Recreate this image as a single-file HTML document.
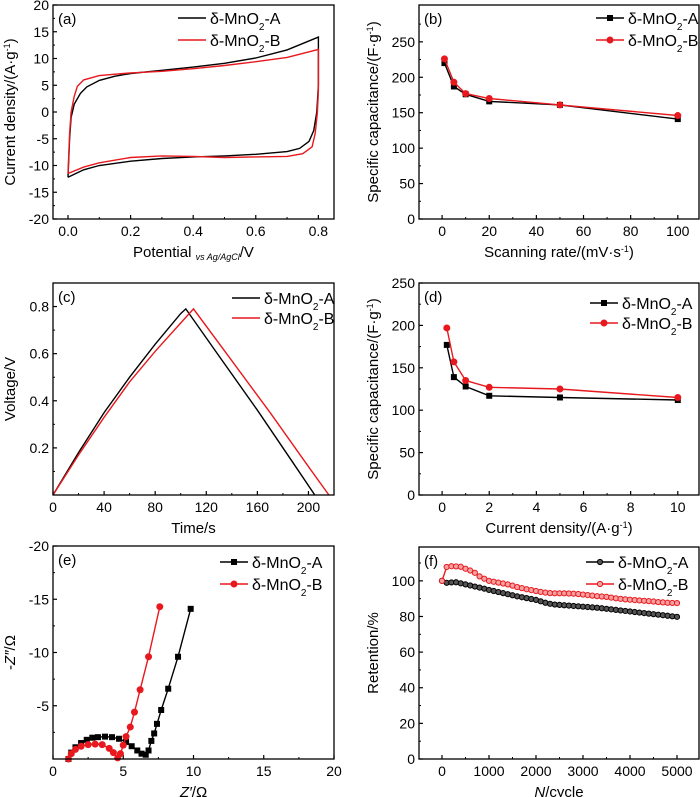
<!DOCTYPE html>
<html><head><meta charset="utf-8">
<style>
body{margin:0;background:#fff;}
svg{display:block;font-family:"Liberation Sans",Arial,sans-serif;}
</style></head>
<body>
<svg id="fig" width="700" height="797" viewBox="0 0 700 797" xmlns="http://www.w3.org/2000/svg"></svg>
<script>
// (a) CV
const cvA_E=[0,0.005,0.01,0.02,0.04,0.06,0.1,0.15,0.2,0.3,0.4,0.5,0.6,0.7,0.8,0.8,0.795,0.785,0.77,0.74,0.7,0.6,0.5,0.4,0.3,0.2,0.1,0.05,0];
const cvA_I=[-12.2,-5,-1,1.5,3.5,4.7,5.9,6.7,7.2,7.8,8.4,9.1,10.1,11.6,14,5,0,-3.5,-5.5,-6.8,-7.4,-7.9,-8.2,-8.4,-8.7,-9.2,-10,-10.8,-12.2];
const cvB_E=[0,0.005,0.01,0.02,0.03,0.05,0.1,0.2,0.3,0.4,0.5,0.6,0.7,0.8,0.8,0.797,0.79,0.78,0.75,0.7,0.6,0.5,0.4,0.3,0.2,0.1,0.05,0];
const cvB_I=[-11.5,-4,0,3,4.8,6,6.8,7.3,7.6,8.1,8.7,9.4,10.2,11.7,4,0,-4,-6.5,-7.8,-8.3,-8.4,-8.5,-8.3,-8.2,-8.5,-9.5,-10.3,-11.5];
// (b)
const rateX=[1,5,10,20,50,100];
const capRateA=[220,187,176,166,161,141];
const capRateB=[226,193,177,170,161,146];
// (c)
const gcdA_t=[0,20,40,60,80,100,104,130,160,190,205];
const gcdA_V=[0,0.18,0.35,0.5,0.64,0.77,0.79,0.59,0.36,0.12,0];
const gcdB_t=[0,20,40,60,80,100,110,140,170,200,216];
const gcdB_V=[0,0.17,0.33,0.48,0.61,0.73,0.79,0.57,0.35,0.12,0];
// (d)
const curX=[0.2,0.5,1,2,5,10];
const capCurA=[177,139,128,117,115,112];
const capCurB=[197,157,135,127,125,115];
// (e)
const eisA_re=[1.1,1.3,1.6,2.0,2.4,2.8,3.2,3.7,4.2,4.7,5.2,5.6,6.0,6.3,6.6,6.8,7.0,7.2,7.4,7.7,8.2,8.9,9.8];
const eisA_im=[0,-0.6,-1.1,-1.5,-1.8,-2.0,-2.05,-2.1,-2.05,-1.9,-1.6,-1.2,-0.8,-0.5,-0.4,-0.8,-1.7,-2.4,-3.3,-4.6,-6.6,-9.6,-14.1];
const eisB_re=[1.1,1.3,1.6,2.0,2.5,3.0,3.5,4.0,4.3,4.6,4.8,5.0,5.2,5.5,5.8,6.2,6.8,7.6];
const eisB_im=[0,-0.5,-0.9,-1.2,-1.35,-1.4,-1.35,-1.0,-0.6,-0.1,-0.5,-1.3,-2.1,-3.0,-4.4,-6.5,-9.6,-14.3];
// (f)
const retA=[100,98.9,99.1,99.2,98.6,98.0,97.4,96.8,96.2,95.6,94.9,94.3,93.7,93.1,92.5,91.9,91.3,90.8,90.3,89.8,89.3,88.5,87.7,87.1,86.7,86.5,86.3,86.1,85.9,85.7,85.5,85.3,85.1,84.9,84.6,84.3,84.0,83.7,83.4,83.1,82.8,82.5,82.2,81.9,81.6,81.3,81.0,80.7,80.4,80.1,79.8];
const retB=[100,107.8,108.2,108.1,107.9,106.8,105.8,104.5,102.5,101.2,100.0,99.5,99.0,98.5,98.0,97.3,96.5,95.9,95.3,94.8,94.3,93.8,93.4,93.1,93.0,93.0,93.0,92.9,92.8,92.6,92.3,92.0,91.7,91.4,91.2,91.0,90.6,90.2,89.9,89.6,89.4,89.2,89.0,88.8,88.6,88.4,88.1,87.9,87.7,87.6,87.5];
const cycleStep=100;

const NS="http://www.w3.org/2000/svg";
const svg=document.getElementById('fig');
function mk(tag,attrs,parent){const e=document.createElementNS(NS,tag);for(const k in attrs)e.setAttribute(k,attrs[k]);(parent||svg).appendChild(e);return e;}
function txt(s,x,y,size,anchor,parent){const t=mk('text',{x:x,y:y,'font-size':size,'text-anchor':anchor||'middle',fill:'#000'},parent);t.innerHTML=s;return t;}

function panel(o){
  const g=mk('g',{});
  
  
  const sx=v=>o.x0+(v-o.xmin)/(o.xmax-o.xmin)*(o.x1-o.x0);
  const sy=v=>o.y1-(v-o.ymin)/(o.ymax-o.ymin)*(o.y1-o.y0);
  o.xt.forEach((v,i)=>{const X=sx(v);mk('line',{x1:X,x2:X,y1:o.y1,y2:o.y1-4,stroke:'#000','stroke-width':1.2},g);
    const t=txt(o.xl?o.xl[i]:String(v),X,o.y1+17,14,'middle',g);});
  (o.xm||[]).forEach(v=>{const X=sx(v);mk('line',{x1:X,x2:X,y1:o.y1,y2:o.y1-2,stroke:'#000','stroke-width':1},g);});
  o.yt.forEach((v,i)=>{const Y=sy(v);mk('line',{x1:o.x0,x2:o.x0+4,y1:Y,y2:Y,stroke:'#000','stroke-width':1.2},g);
    const t=txt(o.yl?o.yl[i]:String(v),o.x0-4,Y+5,14,'end',g);});
  (o.ym||[]).forEach(v=>{const Y=sy(v);mk('line',{x1:o.x0,x2:o.x0+2,y1:Y,y2:Y,stroke:'#000','stroke-width':1},g);});
  o.series.forEach(s=>{
    const d=s.x.map((v,i)=>(i?'L':'M')+sx(v).toFixed(1)+','+sy(s.y[i]).toFixed(1)).join('');
    const p=mk('path',{d:d,fill:'none',stroke:s.c,'stroke-width':1.4},g);
    
    
    if(s.m){s.x.forEach((v,i)=>{
      let e;
      if(s.m==='sq')e=mk('rect',{x:sx(v)-3,y:sy(s.y[i])-3,width:6,height:6,fill:s.c},g);
      else if(s.m==='ci')e=mk('circle',{cx:sx(v),cy:sy(s.y[i]),r:3.5,fill:s.c},g);
      else e=mk('circle',{cx:sx(v),cy:sy(s.y[i]),r:2.6,fill:s.mf||'#fff',stroke:s.c,'stroke-width':1},g);
      
      
    });}
  });
  const fr=mk('rect',{x:o.x0,y:o.y0,width:o.x1-o.x0,height:o.y1-o.y0,fill:'none',stroke:'#000','stroke-width':1.3},g);
  
  
  const lt=txt(o.letter,o.x0+5,o.y0+19,15,'start',g);
  
  
  o.series.forEach((s,i)=>{
    const ly=o.ly+i*(o.lg||22), lx=o.lx;
    const lg=mk('g',{},g);
    
    
    mk('line',{x1:lx,x2:lx+28,y1:ly,y2:ly,stroke:s.c,'stroke-width':1.4},lg);
    if(s.m==='sq')mk('rect',{x:lx+11,y:ly-3,width:6,height:6,fill:s.c},lg);
    else if(s.m==='ci')mk('circle',{cx:lx+14,cy:ly,r:3.5,fill:s.c},lg);
    else if(s.m)mk('circle',{cx:lx+14,cy:ly,r:2.6,fill:s.mf||'#fff',stroke:s.c},lg);
    txt(s.label,lx+32,ly+6,16,'start',lg);
  });
  const xt=txt(o.xtitle,(o.x0+o.x1)/2,o.y1+38,15,'middle',g);
  
  const yt=mk('text',{x:0,y:0,'font-size':15,'text-anchor':'middle',transform:'translate('+o.ytx+','+((o.y0+o.y1)/2)+') rotate(-90)'},g);
  yt.innerHTML=o.ytitle;
  
}
const LA='δ-MnO<tspan baseline-shift="sub" font-size="10">2</tspan>-A';
const LB='δ-MnO<tspan baseline-shift="sub" font-size="10">2</tspan>-B';
function rng(a,b,s){const r=[];for(let v=a;v<=b+1e-9;v+=s)r.push(+v.toFixed(4));return r;}

panel({name:'panel-a-cv',letter:'(a)',x0:53,x1:334,y0:5,y1:219,xmin:-0.048,xmax:0.85,ymin:-20,ymax:20,
  xt:[0,0.2,0.4,0.6,0.8],xl:['0.0','0.2','0.4','0.6','0.8'],xm:[0.1,0.3,0.5,0.7],yt:rng(-20,20,5),ym:rng(-17.5,17.5,5),
  lx:178,ly:18,xtitle:'Potential <tspan font-size="9" font-style="italic" dy="3">vs Ag/AgCl</tspan><tspan dy="-3">/V</tspan>',ytx:15,ytitle:'Current density/(A·g<tspan baseline-shift="super" font-size="9">-1</tspan>)',
  series:[{n:'cv-a',x:cvA_E,y:cvA_I,c:'#000',label:LA},{n:'cv-b',x:cvB_E,y:cvB_I,c:'#e8191e',label:LB}]});

panel({name:'panel-b-rate',letter:'(b)',x0:419,x1:699,y0:5,y1:219,xmin:-9.8,xmax:109,ymin:0,ymax:302,
  xt:[0,20,40,60,80,100],xm:[10,30,50,70,90],yt:[0,50,100,150,200,250],ym:[25,75,125,175,225,275],
  lx:596,ly:18,xtitle:'Scanning rate/(mV·s<tspan baseline-shift="super" font-size="9">-1</tspan>)',ytx:378,ytitle:'Specific capacitance/(F·g<tspan baseline-shift="super" font-size="9">-1</tspan>)',
  series:[{n:'rate-a',x:rateX,y:capRateA,c:'#000',m:'sq',label:LA},{n:'rate-b',x:rateX,y:capRateB,c:'#e8191e',m:'ci',label:LB}]});

panel({name:'panel-c-gcd',letter:'(c)',x0:53,x1:334,y0:283,y1:495,xmin:0,xmax:220,ymin:0,ymax:0.9,
  xt:[0,40,80,120,160,200],xm:[20,60,100,140,180],yt:[0.2,0.4,0.6,0.8],ym:[0.1,0.3,0.5,0.7],
  lx:232,ly:298,lg:20,xtitle:'Time/s',ytx:15,ytitle:'Voltage/V',
  series:[{n:'gcd-a',x:gcdA_t,y:gcdA_V,c:'#000',label:LA},{n:'gcd-b',x:gcdB_t,y:gcdB_V,c:'#e8191e',label:LB}]});

panel({name:'panel-d-current',letter:'(d)',x0:419,x1:699,y0:283,y1:495,xmin:-0.98,xmax:10.9,ymin:0,ymax:250,
  xt:[0,2,4,6,8,10],xm:[1,3,5,7,9],yt:[0,50,100,150,200,250],ym:[25,75,125,175,225],
  lx:590,ly:303,lg:20,xtitle:'Current density/(A·g<tspan baseline-shift="super" font-size="9">-1</tspan>)',ytx:378,ytitle:'Specific capacitance/(F·g<tspan baseline-shift="super" font-size="9">-1</tspan>)',
  series:[{n:'cur-a',x:curX,y:capCurA,c:'#000',m:'sq',label:LA},{n:'cur-b',x:curX,y:capCurB,c:'#e8191e',m:'ci',label:LB}]});

panel({name:'panel-e-eis',letter:'(e)',x0:53,x1:334,y0:546,y1:759,xmin:0,xmax:20,ymin:0,ymax:-20,
  xt:[0,5,10,15,20],xm:[2.5,7.5,12.5,17.5],yt:[-5,-10,-15,-20],ym:[-2.5,-7.5,-12.5,-17.5],
  lx:220,ly:562,xtitle:'<tspan font-style="italic">Z′</tspan>/Ω',ytx:15,ytitle:'-<tspan font-style="italic">Z″</tspan>/Ω',
  series:[{n:'eis-a',x:eisA_re,y:eisA_im,c:'#000',m:'sq',label:LA},{n:'eis-b',x:eisB_re,y:eisB_im,c:'#e8191e',m:'ci',label:LB}]});

const cyc=retA.map((v,i)=>i*cycleStep);
panel({name:'panel-f-cycle',letter:'(f)',x0:419,x1:699,y0:547,y1:759,xmin:-489,xmax:5468,ymin:0,ymax:119,
  xt:[0,1000,2000,3000,4000,5000],xm:[500,1500,2500,3500,4500],yt:[0,20,40,60,80,100],ym:[10,30,50,70,90,110],
  lx:586,ly:562,xtitle:'<tspan font-style="italic">N</tspan>/cycle',ytx:378,ytitle:'Retention/%',
  series:[{n:'ret-a',x:cyc,y:retA,c:'#000',m:'oc',mf:'#555',label:LA},{n:'ret-b',x:cyc,y:retB,c:'#e8191e',m:'oc',mf:'#f6a0a0',label:LB}]});
</script>
</body></html>
